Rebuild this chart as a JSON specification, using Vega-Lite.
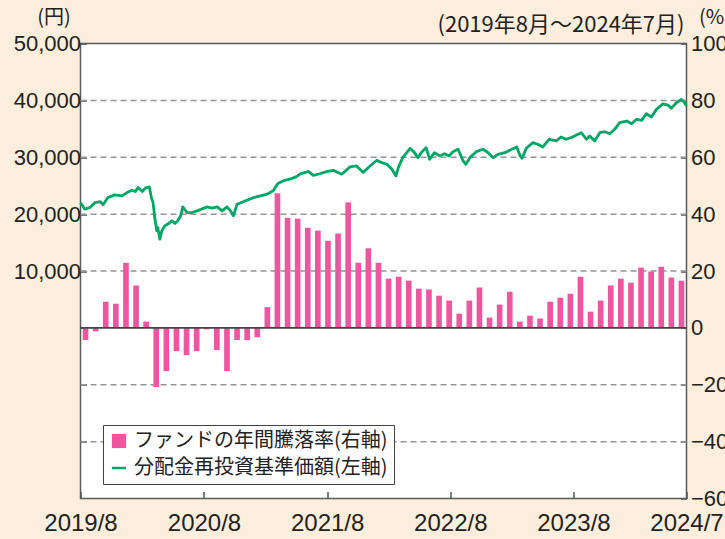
{
  "$schema": "https://vega.github.io/schema/vega-lite/v6.json",
  "width": 606,
  "height": 455,
  "autosize": "none",
  "padding": {"left": 80.5, "top": 43.5, "right": 38.5, "bottom": 40},
  "background": "#fbeedd",
  "config": {
    "view": {"fill": "white", "stroke": "#5a5a5a", "strokeWidth": 1.5},
    "font": "Liberation Sans",
    "axis": {"labelColor": "#222", "tickColor": "#555", "tickWidth": 1.5, "domain": false, "grid": false, "titleColor": "#222", "titleFontWeight": "normal", "labelFlush": false, "labelOverlap": false, "labelBound": false}
  },
  "title": {"text": "(2019年8月～2024年7月)", "anchor": "end", "frame": "group", "font": "Noto Sans CJK JP", "fontSize": 22, "fontWeight": "normal", "color": "#222", "offset": 4, "dx": -2, "dy": 33},
  "layer": [
    {
      "encoding": {
        "y": {"field": "v", "type": "quantitative", "scale": {"domain": [-60, 100], "nice": false, "zero": false},
          "axis": {"orient": "right", "values": [-60, -40, -20, 0, 20, 40, 60, 80, 100], "labelExpr": "replace(format(datum.value, 'd'), '-', '−')", "tickSize": -6, "labelPadding": 10, "labelFontSize": 22, "labelAlign": "left", "labelBaseline": "middle",
            "title": "(%)", "titleAngle": 0, "titleX": 12, "titleY": -26, "titleAlign": "left", "titleBaseline": "middle", "titleFont": "Noto Sans CJK JP", "titleFontSize": 20}}
      },
      "layer": [
        {"data": {"values": [{"v": -40}, {"v": -20}, {"v": 20}, {"v": 40}, {"v": 60}, {"v": 80}]}, "mark": {"type": "rule", "color": "#949494", "strokeDash": [6, 4], "strokeWidth": 1.5}, "encoding": {}},
        {"data": {"values": [
          {"m": "2019-08", "v": -4.3}, {"m": "2019-09", "v": -1.2}, {"m": "2019-10", "v": 9.2}, {"m": "2019-11", "v": 8.5}, {"m": "2019-12", "v": 22.9},
          {"m": "2020-01", "v": 14.9}, {"m": "2020-02", "v": 2.2}, {"m": "2020-03", "v": -20.8}, {"m": "2020-04", "v": -15.2}, {"m": "2020-05", "v": -8.2},
          {"m": "2020-06", "v": -9.6}, {"m": "2020-07", "v": -8.2}, {"m": "2020-08", "v": -0.5}, {"m": "2020-09", "v": -7.8}, {"m": "2020-10", "v": -15.2},
          {"m": "2020-11", "v": -4.3}, {"m": "2020-12", "v": -4.3}, {"m": "2021-01", "v": -3.3}, {"m": "2021-02", "v": 7.3}, {"m": "2021-03", "v": 47.3},
          {"m": "2021-04", "v": 38.7}, {"m": "2021-05", "v": 38.4}, {"m": "2021-06", "v": 35.2}, {"m": "2021-07", "v": 34.2}, {"m": "2021-08", "v": 30.6},
          {"m": "2021-09", "v": 33.2}, {"m": "2021-10", "v": 44.1}, {"m": "2021-11", "v": 22.9}, {"m": "2021-12", "v": 28.0}, {"m": "2022-01", "v": 22.9},
          {"m": "2022-02", "v": 17.3}, {"m": "2022-03", "v": 18.0}, {"m": "2022-04", "v": 16.6}, {"m": "2022-05", "v": 13.8}, {"m": "2022-06", "v": 13.5},
          {"m": "2022-07", "v": 11.3}, {"m": "2022-08", "v": 9.6}, {"m": "2022-09", "v": 5.0}, {"m": "2022-10", "v": 9.6}, {"m": "2022-11", "v": 14.2},
          {"m": "2022-12", "v": 3.6}, {"m": "2023-01", "v": 8.2}, {"m": "2023-02", "v": 12.7}, {"m": "2023-03", "v": 2.2}, {"m": "2023-04", "v": 4.3},
          {"m": "2023-05", "v": 3.3}, {"m": "2023-06", "v": 9.2}, {"m": "2023-07", "v": 10.6}, {"m": "2023-08", "v": 12.0}, {"m": "2023-09", "v": 18.0},
          {"m": "2023-10", "v": 5.7}, {"m": "2023-11", "v": 9.6}, {"m": "2023-12", "v": 14.9}, {"m": "2024-01", "v": 17.3}, {"m": "2024-02", "v": 15.9},
          {"m": "2024-03", "v": 21.2}, {"m": "2024-04", "v": 19.8}, {"m": "2024-05", "v": 21.5}, {"m": "2024-06", "v": 17.7}, {"m": "2024-07", "v": 16.6}
        ]},
          "mark": {"type": "bar"},
          "encoding": {
            "x": {"field": "m", "type": "ordinal", "sort": null, "scale": {"type": "band", "paddingInner": 0.44, "paddingOuter": 0.22}, "axis": null},
            "color": {"datum": "ファンドの年間騰落率(右軸)", "type": "nominal",
              "scale": {"domain": ["ファンドの年間騰落率(右軸)", "分配金再投資基準価額(左軸)"], "range": ["#ee579f", "#00a865"]},
              "legend": {"orient": "none", "legendX": 22.5, "legendY": 381.5, "title": null, "direction": "vertical",
                "strokeColor": "#444", "fillColor": "#ffffff", "padding": 6, "rowPadding": 7, "labelFont": "Noto Sans CJK JP", "labelFontSize": 20, "labelColor": "#222", "labelOffset": 5, "labelLimit": 500,
                "symbolSize": 200, "symbolType": "square",
                "encode": {"symbols": {"update": {
                  "shape": {"signal": "datum.value === '分配金再投資基準価額(左軸)' ? 'stroke' : 'square'"},
                  "fill": {"scale": "color", "field": "value"},
                  "stroke": {"scale": "color", "field": "value"},
                  "strokeWidth": {"signal": "datum.value === '分配金再投資基準価額(左軸)' ? 2.5 : 0"},
                  "opacity": {"value": 1}}}}}}
          }},
        {"data": {"values": [{"v": 0}]}, "mark": {"type": "rule", "color": "#444", "strokeWidth": 1.8}, "encoding": {}}
      ]
    },
    {
      "data": {"values": [
        {"d": "2019-08-01", "yen": 22000}, {"d": "2019-08-14", "yen": 20880}, {"d": "2019-08-29", "yen": 21160}, {"d": "2019-09-13", "yen": 22030},
        {"d": "2019-09-28", "yen": 22210}, {"d": "2019-10-07", "yen": 21630}, {"d": "2019-10-21", "yen": 22910}, {"d": "2019-11-11", "yen": 23390},
        {"d": "2019-12-02", "yen": 23210}, {"d": "2019-12-17", "yen": 23790}, {"d": "2020-01-01", "yen": 24210}, {"d": "2020-01-10", "yen": 23970},
        {"d": "2020-01-19", "yen": 24670}, {"d": "2020-01-31", "yen": 23970}, {"d": "2020-02-09", "yen": 24560}, {"d": "2020-02-21", "yen": 24790},
        {"d": "2020-02-27", "yen": 22910}, {"d": "2020-03-03", "yen": 22030}, {"d": "2020-03-08", "yen": 19400}, {"d": "2020-03-14", "yen": 17070},
        {"d": "2020-03-17", "yen": 17650}, {"d": "2020-03-23", "yen": 15610}, {"d": "2020-03-29", "yen": 17070}, {"d": "2020-04-07", "yen": 17950},
        {"d": "2020-04-16", "yen": 18250}, {"d": "2020-04-28", "yen": 18820}, {"d": "2020-05-07", "yen": 18350}, {"d": "2020-05-15", "yen": 18820},
        {"d": "2020-05-24", "yen": 19700}, {"d": "2020-05-30", "yen": 21280}, {"d": "2020-06-12", "yen": 20280}, {"d": "2020-06-26", "yen": 20280},
        {"d": "2020-07-11", "yen": 20580}, {"d": "2020-07-25", "yen": 20880}, {"d": "2020-08-10", "yen": 21280}, {"d": "2020-08-25", "yen": 21050},
        {"d": "2020-09-09", "yen": 21280}, {"d": "2020-09-24", "yen": 20580}, {"d": "2020-10-08", "yen": 21280}, {"d": "2020-10-17", "yen": 20700},
        {"d": "2020-10-27", "yen": 19700}, {"d": "2020-11-07", "yen": 21750}, {"d": "2020-12-06", "yen": 22450}, {"d": "2020-12-26", "yen": 22910},
        {"d": "2021-01-15", "yen": 23210}, {"d": "2021-02-04", "yen": 23510}, {"d": "2021-02-22", "yen": 24100}, {"d": "2021-03-08", "yen": 25400},
        {"d": "2021-03-23", "yen": 25840}, {"d": "2021-04-12", "yen": 26140}, {"d": "2021-05-02", "yen": 26600}, {"d": "2021-05-12", "yen": 27020},
        {"d": "2021-06-06", "yen": 27500}, {"d": "2021-06-21", "yen": 26800}, {"d": "2021-07-10", "yen": 27100}, {"d": "2021-07-30", "yen": 27470},
        {"d": "2021-08-19", "yen": 27700}, {"d": "2021-09-13", "yen": 27020}, {"d": "2021-10-08", "yen": 28300}, {"d": "2021-10-27", "yen": 28470},
        {"d": "2021-11-16", "yen": 27300}, {"d": "2021-12-06", "yen": 28470}, {"d": "2021-12-26", "yen": 29470}, {"d": "2022-01-10", "yen": 29050},
        {"d": "2022-01-25", "yen": 28770}, {"d": "2022-02-09", "yen": 27900}, {"d": "2022-02-21", "yen": 26720}, {"d": "2022-02-28", "yen": 28180},
        {"d": "2022-03-13", "yen": 29930}, {"d": "2022-04-04", "yen": 31580}, {"d": "2022-04-17", "yen": 30810}, {"d": "2022-04-27", "yen": 29930},
        {"d": "2022-05-07", "yen": 30810}, {"d": "2022-05-21", "yen": 31680}, {"d": "2022-06-01", "yen": 29650}, {"d": "2022-06-15", "yen": 30810},
        {"d": "2022-06-30", "yen": 30230}, {"d": "2022-07-15", "yen": 30630}, {"d": "2022-07-29", "yen": 30230}, {"d": "2022-08-09", "yen": 30980},
        {"d": "2022-08-24", "yen": 31400}, {"d": "2022-09-08", "yen": 29350}, {"d": "2022-09-16", "yen": 28770}, {"d": "2022-09-28", "yen": 29930},
        {"d": "2022-10-17", "yen": 30980}, {"d": "2022-11-06", "yen": 31400}, {"d": "2022-11-21", "yen": 30810}, {"d": "2022-12-06", "yen": 29930},
        {"d": "2022-12-20", "yen": 30520}, {"d": "2023-01-10", "yen": 30810}, {"d": "2023-01-30", "yen": 31400}, {"d": "2023-02-14", "yen": 31810},
        {"d": "2023-02-24", "yen": 30230}, {"d": "2023-03-02", "yen": 29820}, {"d": "2023-03-14", "yen": 31580}, {"d": "2023-04-03", "yen": 32560},
        {"d": "2023-04-17", "yen": 32280}, {"d": "2023-05-02", "yen": 31810}, {"d": "2023-05-21", "yen": 33160}, {"d": "2023-06-11", "yen": 32860},
        {"d": "2023-06-25", "yen": 33560}, {"d": "2023-07-10", "yen": 33160}, {"d": "2023-07-25", "yen": 33440}, {"d": "2023-08-10", "yen": 33910},
        {"d": "2023-08-24", "yen": 34320}, {"d": "2023-09-09", "yen": 33160}, {"d": "2023-09-18", "yen": 33740}, {"d": "2023-10-03", "yen": 32860},
        {"d": "2023-10-18", "yen": 34320}, {"d": "2023-11-02", "yen": 34490}, {"d": "2023-11-17", "yen": 34140}, {"d": "2023-12-01", "yen": 34910},
        {"d": "2023-12-16", "yen": 36070}, {"d": "2024-01-06", "yen": 36370}, {"d": "2024-01-20", "yen": 35900}, {"d": "2024-02-04", "yen": 36670},
        {"d": "2024-02-19", "yen": 36490}, {"d": "2024-03-04", "yen": 37650}, {"d": "2024-03-19", "yen": 37070}, {"d": "2024-04-03", "yen": 38420},
        {"d": "2024-04-22", "yen": 39400}, {"d": "2024-05-07", "yen": 39180}, {"d": "2024-05-17", "yen": 38600}, {"d": "2024-06-01", "yen": 39580},
        {"d": "2024-06-16", "yen": 40170}, {"d": "2024-06-23", "yen": 39750}, {"d": "2024-07-01", "yen": 39000}
      ]},
      "mark": {"type": "line", "strokeWidth": 2.8, "strokeJoin": "round"},
      "encoding": {
        "x": {"field": "d", "type": "temporal",
          "scale": {"type": "utc", "domain": [{"year": 2019, "month": 8, "date": 1, "utc": true}, {"year": 2024, "month": 7, "date": 1, "utc": true}]},
          "axis": {"orient": "bottom", "title": null, "labelExpr": "utcFormat(datum.value, '%Y/%-m')",
            "values": [{"year": 2019, "month": 8, "date": 1, "utc": true}, {"year": 2020, "month": 8, "date": 1, "utc": true}, {"year": 2021, "month": 8, "date": 1, "utc": true}, {"year": 2022, "month": 8, "date": 1, "utc": true}, {"year": 2023, "month": 8, "date": 1, "utc": true}, {"year": 2024, "month": 7, "date": 1, "utc": true}],
            "tickSize": -7, "labelPadding": 20, "labelFontSize": 24}},
        "y": {"field": "yen", "type": "quantitative", "scale": {"domain": [-30000, 50000], "nice": false, "zero": false},
          "axis": {"orient": "left", "values": [-20000, -10000, 0, 10000, 20000, 30000, 40000, 50000], "labelExpr": "datum.value > 0 ? format(datum.value, ',') : ''",
            "tickSize": -6, "labelPadding": 6, "labelFontSize": 22, "labelBaseline": "middle",
            "title": "(円)", "titleAngle": 0, "titleX": -27, "titleY": -26, "titleAlign": "center", "titleBaseline": "middle", "titleFont": "Noto Sans CJK JP", "titleFontSize": 20}},
        "color": {"datum": "分配金再投資基準価額(左軸)", "type": "nominal"}
      }
    }
  ],
  "resolve": {"scale": {"x": "independent", "y": "independent"}}
}
